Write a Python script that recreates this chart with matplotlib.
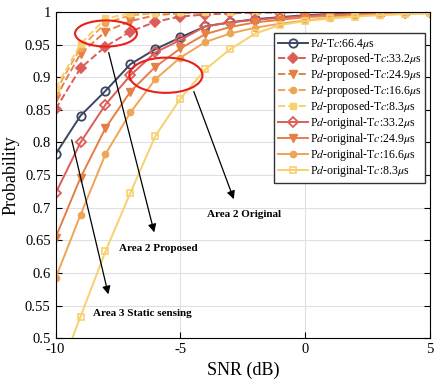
import matplotlib
matplotlib.use("Agg")
import matplotlib.pyplot as plt
from matplotlib.patches import Ellipse

plt.rcParams["font.family"] = ["Liberation Serif", "DejaVu Serif"]
plt.rcParams["mathtext.fontset"] = "stix"

snr = [-10, -9, -8, -7, -6, -5, -4, -3, -2, -1, 0, 1, 2, 3, 4, 5]

pd_full = [0.782, 0.841, 0.879, 0.920, 0.943, 0.961, 0.978, 0.984, 0.989, 0.992,
           0.995, 0.997, 0.998, 0.999, 0.9995, 1.0]

prop_332 = [0.851, 0.914, 0.947, 0.970, 0.985, 0.993, 0.996, 0.998, 0.999, 0.999,
            1.0, 1.0, 1.0, 1.0, 1.0, 1.0]
prop_249 = [0.868, 0.936, 0.970, 0.986, 0.995, 0.998, 0.999, 1.0, 1.0, 1.0,
            1.0, 1.0, 1.0, 1.0, 1.0, 1.0]
prop_166 = [0.878, 0.945, 0.983, 0.995, 0.998, 0.999, 1.0, 1.0, 1.0, 1.0,
            1.0, 1.0, 1.0, 1.0, 1.0, 1.0]
prop_83 = [0.883, 0.951, 0.990, 0.998, 0.999, 1.0, 1.0, 1.0, 1.0, 1.0,
           1.0, 1.0, 1.0, 1.0, 1.0, 1.0]

orig_332 = [0.722, 0.800, 0.858, 0.903, 0.938, 0.957, 0.978, 0.984, 0.988, 0.991,
            0.994, 0.996, 0.997, 0.998, 0.999, 1.0]
orig_249 = [0.654, 0.746, 0.822, 0.878, 0.916, 0.944, 0.966, 0.977, 0.984, 0.988,
            0.992, 0.994, 0.996, 0.997, 0.998, 0.999]
orig_166 = [0.592, 0.689, 0.782, 0.846, 0.897, 0.930, 0.954, 0.967, 0.976, 0.982,
            0.987, 0.991, 0.994, 0.996, 0.997, 0.998]
orig_83 = [0.433, 0.533, 0.633, 0.723, 0.810, 0.867, 0.912, 0.943, 0.967, 0.980,
           0.986, 0.990, 0.993, 0.995, 0.997, 0.998]

c_navy = "#3b4662"
c_red = "#dc5d57"
c_orange = "#e67f45"
c_lorange = "#f0a455"
c_yellow = "#f8d06e"

fig = plt.figure(figsize=(4.41, 3.86), dpi=100)
ax = fig.add_axes([0.126, 0.124, 0.849, 0.845])

ax.grid(color="#e0e0e0", linewidth=0.8)
ax.set_axisbelow(True)

lw = 1.4
ax.plot(snr, pd_full, "-o", color=c_navy, lw=lw, ms=6, mfc="none", mew=1.3,
        label=r"P$d$-T$c$:66.4$\mu$s")
ax.plot(snr, prop_332, "--D", color=c_red, lw=lw, ms=5, mew=1.2,
        label=r"P$d$-proposed-T$c$:33.2$\mu$s")
ax.plot(snr, prop_249, "--v", color=c_orange, lw=lw, ms=6,
        label=r"P$d$-proposed-T$c$:24.9$\mu$s")
ax.plot(snr, prop_166, "--o", color=c_lorange, lw=lw, ms=4.5,
        label=r"P$d$-proposed-T$c$:16.6$\mu$s")
ax.plot(snr, prop_83, "--s", color=c_yellow, lw=lw, ms=5,
        label=r"P$d$-proposed-T$c$:8.3$\mu$s")
ax.plot(snr, orig_332, "-D", color=c_red, lw=lw, ms=5, mfc="none", mew=1.3,
        label=r"P$d$-original-T$c$:33.2$\mu$s")
ax.plot(snr, orig_249, "-v", color=c_orange, lw=lw, ms=6,
        label=r"P$d$-original-T$c$:24.9$\mu$s")
ax.plot(snr, orig_166, "-o", color=c_lorange, lw=lw, ms=4.5,
        label=r"P$d$-original-T$c$:16.6$\mu$s")
ax.plot(snr, orig_83, "-s", color=c_yellow, lw=lw, ms=5, mfc="none", mew=1.2,
        label=r"P$d$-original-T$c$:8.3$\mu$s")

# red ellipses
ax.add_patch(Ellipse((-7.98, 0.967), 2.48, 0.040, fill=False, color="#e8201c", lw=1.5, zorder=5))
ax.add_patch(Ellipse((-5.58, 0.903), 2.93, 0.054, fill=False, color="#e8201c", lw=1.5, zorder=5))

arrow = dict(arrowstyle="-|>", color="black", lw=0.9, mutation_scale=12)
ax.annotate("", xy=(-6.02, 0.658), xytext=(-7.9, 0.942), arrowprops=arrow)
ax.annotate("", xy=(-2.82, 0.709), xytext=(-4.5, 0.882), arrowprops=arrow)
ax.annotate("", xy=(-7.86, 0.563), xytext=(-9.38, 0.808), arrowprops=arrow)

ax.text(-3.94, 0.689, "Area 2 Original", fontsize=8, fontweight="bold", va="center")
ax.text(-7.46, 0.638, "Area 2 Proposed", fontsize=8, fontweight="bold", va="center")
ax.text(-8.5, 0.537, "Area 3 Static sensing", fontsize=8, fontweight="bold", va="center")

ax.set_xlim(-10, 5)
ax.set_ylim(0.5, 1.0)
ax.set_xticks([-10, -5, 0, 5])
ax.set_xticklabels(["-10", "-5", "0", "5"])
ax.set_yticks([0.5, 0.55, 0.6, 0.65, 0.7, 0.75, 0.8, 0.85, 0.9, 0.95, 1.0])
ax.set_yticklabels(["0.5", "0.55", "0.6", "0.65", "0.7", "0.75", "0.8", "0.85",
                    "0.9", "0.95", "1"])
ax.tick_params(direction="in", labelsize=10.5, length=4, top=True, right=True)
for s in ax.spines.values():
    s.set_linewidth(0.8)

ax.set_xlabel("SNR (dB)", fontsize=13)
ax.set_ylabel("Probability", fontsize=13)

leg = ax.legend(loc="upper right", bbox_to_anchor=(0.988, 0.937), fontsize=8.5,
                handlelength=2.5, labelspacing=0.0, borderpad=0.35,
                handletextpad=0.15, borderaxespad=0.0, fancybox=False, framealpha=1)
leg.get_frame().set_edgecolor("#333333")
leg.get_frame().set_linewidth(1.0)

fig.savefig("out.png", dpi=100)
